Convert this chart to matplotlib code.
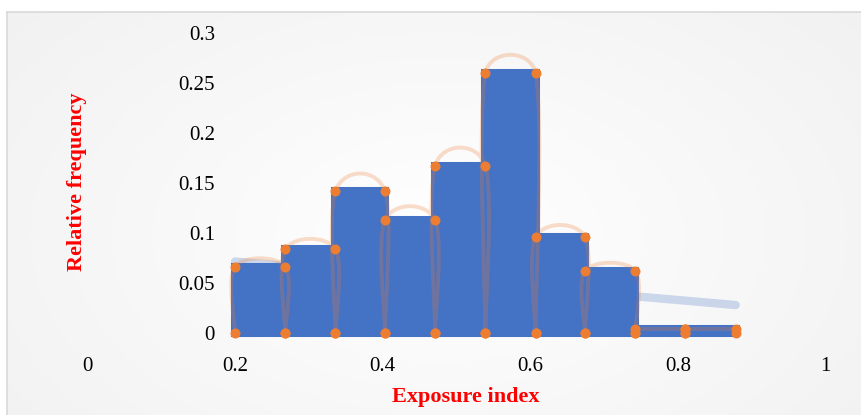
import numpy as np
import matplotlib.pyplot as plt
from matplotlib.path import Path
from matplotlib.patches import PathPatch

# histogram of exposure index (bin edges and relative frequency per bin)
bin_edges = [0.2, 0.268, 0.336, 0.403, 0.471, 0.539, 0.607, 0.674, 0.742, 0.81, 0.878]
rel_freq = [0.0667, 0.084, 0.1423, 0.113, 0.1677, 0.26, 0.0963, 0.0627, 0.004, 0.004]
x_ticks = [0, 0.2, 0.4, 0.6, 0.8, 1]
y_ticks = [0, 0.05, 0.1, 0.15, 0.2, 0.25, 0.3]

BLUE = "#4472c4"
ORANGE = "#ed7d31"
W, H = 861, 415

plt.rcParams["font.family"] = ["Liberation Serif", "DejaVu Serif"]


def step_points(edges, heights):
    # each bin becomes four corners: bottom-left, top-left, top-right, bottom-right
    xs, ys = [], []
    for k, h in enumerate(heights):
        l, r = edges[k], edges[k + 1]
        xs += [l, l, r, r]
        ys += [0, h, h, 0]
    return np.array(xs), np.array(ys)


def smooth_path(px):
    # cubic bezier through the points, handles clamped to half the segment length
    n = len(px)
    verts = [px[0]]
    codes = [Path.MOVETO]
    for i in range(n - 1):
        p0, p1 = px[max(i - 1, 0)], px[i]
        p2, p3 = px[i + 1], px[min(i + 2, n - 1)]
        seg = np.hypot(*(p2 - p1))
        t1 = (p2 - p0) / 6.0
        t2 = (p3 - p1) / 6.0
        lim = 0.5 * seg
        for t in (t1, t2):
            m = np.hypot(*t)
            if m > lim and m > 0:
                t *= lim / m
        verts += [p1 + t1, p2 - t2, p2]
        codes += [Path.CURVE4] * 3
    return np.array(verts), codes


fig = plt.figure(figsize=(W / 100, H / 100), dpi=100)
fig.patch.set_facecolor("white")

# chart frame with a soft radial shading (runs off the right and bottom edges)
bg = fig.add_axes([7 / W, -0.1, 1, 0.1 + (H - 12) / H], zorder=-5)
yy, xx = np.mgrid[0:220, 0:430]
r = np.hypot((xx - 215) / 260.0, (yy - 110) / 160.0)
shade = 1 - 0.05 * np.clip(r, 0, 1.2)
bg.imshow(np.dstack([shade] * 3), aspect="auto", extent=(0, 1, 0, 1))
bg.set_xticks([])
bg.set_yticks([])
for s in bg.spines.values():
    s.set_color("#d9d9d9")
    s.set_linewidth(1.2)

ax = fig.add_axes([87.3 / W, (H - 333.3) / H, 738.5 / W, 300 / H])
ax.set_xlim(0, 1)
ax.set_ylim(0, 0.3)
ax.patch.set_visible(False)

xs, ys = step_points(bin_edges, rel_freq)

# linear trend of the step series
coef = np.polyfit(xs, ys, 1)
tx = np.array([xs.min(), xs.max()])
ax.plot(tx, np.polyval(coef, tx), color=BLUE, alpha=0.25, lw=6,
        solid_capstyle="round", zorder=1, clip_on=False)

# filled histogram outline
ax.fill(xs, ys, facecolor=BLUE, edgecolor=BLUE, lw=5.8,
        joinstyle="miter", zorder=2, clip_on=False)

# smoothed line through the corners
px = ax.transData.transform(np.column_stack([xs, ys]))
verts, codes = smooth_path(px)
verts = ax.transData.inverted().transform(verts)
ax.add_patch(PathPatch(Path(verts, codes), facecolor="none", edgecolor=ORANGE,
                       alpha=0.25, lw=2.8, zorder=3, clip_on=False))

ax.plot(xs, ys, "o", color=ORANGE, ms=7.2, mec="none", zorder=4, clip_on=False)

ax.spines["left"].set_position(("data", 0.2))
for s in ax.spines.values():
    s.set_visible(False)
ax.set_xticks(x_ticks)
ax.set_xticklabels([f"{v:g}" for v in x_ticks])
ax.set_yticks(y_ticks)
ax.set_yticklabels([f"{v:g}" for v in y_ticks])
ax.tick_params(axis="both", length=0, labelsize=15)
ax.tick_params(axis="x", pad=17)
ax.tick_params(axis="y", pad=14.4)

fig.text(466 / W, 13.3 / H, "Exposure index", color="red", fontsize=16,
         fontweight="bold", ha="center", va="baseline")
fig.text(77 / W, 1 - 182 / H, "Relative frequency", color="red", fontsize=16,
         fontweight="bold", ha="center", va="center", rotation=90)

fig.savefig("out.png", dpi=100)
